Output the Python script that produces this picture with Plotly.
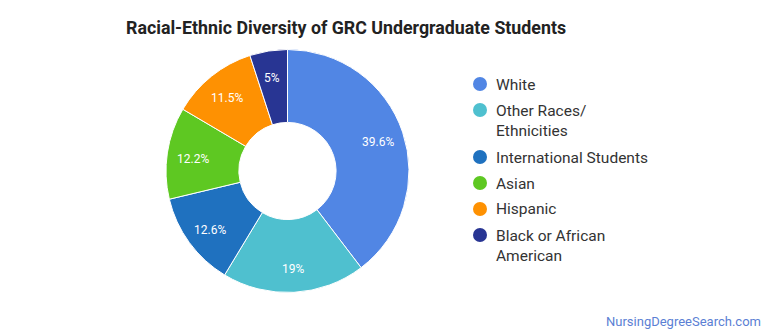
import math
import plotly.graph_objects as go

labels = ["White", "Other Races/<br>Ethnicities", "International Students", "Asian", "Hispanic", "Black or African<br>American"]
values = [39.6, 19, 12.6, 12.2, 11.5, 5]
colors = ["#5186e4", "#4fc0cf", "#1f71bf", "#5ec822", "#fe9102", "#283593"]
title = "Racial-Ethnic Diversity of GRC Undergraduate Students"
watermark = "NursingDegreeSearch.com"

W, H = 770, 335
cx, cy, r = 287.5, 171, 121.5

fig = go.Figure()
fig.add_trace(go.Pie(
    labels=labels, values=values, sort=False, direction="clockwise", rotation=0,
    hole=0.4, marker=dict(colors=colors, line=dict(color="white", width=1)),
    textinfo="none",
    domain=dict(x=[(cx - r) / W, (cx + r) / W], y=[(H - cy - r) / H, (H - cy + r) / H]),
    showlegend=False, hoverinfo="label+percent",
))

shapes = []
annotations = []

# slice labels placed at each slice's mid-angle
total = sum(values)
cum = 0.0
label_r = 96
for v in values:
    mid = (cum + v / 2) / total * 2 * math.pi
    cum += v
    lx = cx + label_r * math.sin(mid)
    ly = cy - label_r * math.cos(mid) + 2
    annotations.append(dict(text=f"{v:g}%", x=lx / W, y=(H - ly) / H, xref="paper", yref="paper",
                            xanchor="center", yanchor="middle", showarrow=False,
                            font=dict(family="Roboto", size=12, color="white")))

# custom legend with circular markers
item_y = [84, 110, 157, 183, 209, 235]
for lab, col, yy in zip(labels, colors, item_y):
    shapes.append(dict(type="circle", xref="paper", yref="paper",
                       x0=473 / W, x1=487 / W, y0=(H - yy - 7) / H, y1=(H - yy + 7) / H,
                       fillcolor=col, line=dict(width=0)))
    annotations.append(dict(text=lab, x=494 / W, y=(H - yy + 10.5) / H, xref="paper", yref="paper",
                            xanchor="left", yanchor="top", showarrow=False, align="left",
                            font=dict(family="Roboto", size=15.5, color="#333333")))

annotations.append(dict(text="<b>" + title + "</b>", x=124 / W, y=(H - 27) / H, xref="paper", yref="paper",
                        xanchor="left", yanchor="middle", showarrow=False,
                        font=dict(family="Roboto", size=17.8, color="#222222")))
annotations.append(dict(text=watermark, x=763 / W, y=(H - 321) / H, xref="paper", yref="paper",
                        xanchor="right", yanchor="middle", showarrow=False,
                        font=dict(family="Roboto", size=13, color="#5b7fd4")))

fig.update_layout(width=W, height=H, margin=dict(l=0, r=0, t=0, b=0),
                  paper_bgcolor="white", plot_bgcolor="white",
                  shapes=shapes, annotations=annotations)
fig.write_html("out.html")
